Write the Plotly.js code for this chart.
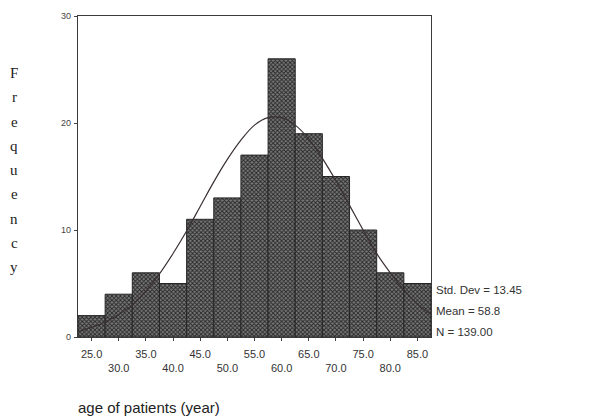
<!DOCTYPE html>
<html>
<head>
<meta charset="utf-8">
<script src="https://cdn.plot.ly/plotly-3.0.1.min.js"></script>
<style>html,body{margin:0;padding:0;background:#fff;}#chart{width:604px;height:420px;}</style>
</head>
<body>
<div id="chart"></div>
<script>
// Histogram bins (age of patients, bin centres) and frequencies
var binCenters = [25, 30, 35, 40, 45, 50, 55, 60, 65, 70, 75, 80, 85];
var frequencies = [2, 4, 6, 5, 11, 13, 17, 26, 19, 15, 10, 6, 5];

// Fitted normal curve
var curveX = [22.5, 25, 27.5, 30, 32.5, 35, 37.5, 40, 42.5, 45, 47.5, 50, 52.5, 55, 57.5, 60, 62.5, 65, 67.5, 70, 72.5, 75, 77.5, 80, 82.5, 85, 87.5];
var curveY = [0.5, 0.9, 1.4, 2.1, 3.0, 4.3, 5.9, 7.8, 9.9, 12.2, 14.5, 16.6, 18.4, 19.8, 20.5, 20.5, 19.8, 18.5, 16.7, 14.6, 12.3, 10.0, 7.8, 6.0, 4.4, 3.1, 2.1];

// Tick labels
var xTickVals = [25, 30, 35, 40, 45, 50, 55, 60, 65, 70, 75, 80, 85];
var xTickLabels = ["25.0", "30.0", "35.0", "40.0", "45.0", "50.0", "55.0", "60.0", "65.0", "70.0", "75.0", "80.0", "85.0"];
var yTickVals = [0, 10, 20, 30];

var statsLines = ["Std. Dev = 13.45", "Mean = 58.8", "N = 139.00"];
var yTitle = "Frequency";
var xTitle = "age of patients (year)";

// staggered x tick labels: every second one on a lower row
var xTickText = xTickLabels.map(function (t, i) { return i % 2 === 0 ? t : "<br>" + t; });

var traces = [
  {
    type: "bar",
    x: binCenters,
    y: frequencies,
    width: 5,
    marker: {
      color: "#6a6a6a",
      line: { color: "#262626", width: 1 },
      pattern: { shape: "x", fgcolor: "#262626", bgcolor: "#7a7a7a", size: 3, solidity: 0.5 }
    },
    hoverinfo: "x+y"
  },
  {
    type: "scatter",
    mode: "lines",
    x: curveX,
    y: curveY,
    line: { color: "#3a3030", width: 1.2, shape: "spline" },
    hoverinfo: "skip"
  }
];

var annotations = [];
var letters = yTitle.split("");
letters.forEach(function (ch, i) {
  annotations.push({
    text: ch, xref: "paper", yref: "paper",
    x: -0.18, xanchor: "center",
    y: 0.822 - i * 0.0755, yanchor: "middle",
    showarrow: false,
    font: { family: "Liberation Serif, serif", size: 15, color: "#222" }
  });
});
statsLines.forEach(function (s, i) {
  annotations.push({
    text: s, xref: "paper", yref: "paper",
    x: 1.008, xanchor: "left",
    y: 0.147 - i * 0.066, yanchor: "middle",
    showarrow: false,
    font: { family: "Liberation Sans, Arial, sans-serif", size: 11.5, color: "#333" }
  });
});
annotations.push({
  text: xTitle, xref: "paper", yref: "paper",
  x: -0.005, xanchor: "left",
  y: -0.22, yanchor: "middle",
  showarrow: false,
  font: { family: "Liberation Sans, Arial, sans-serif", size: 15, color: "#222" }
});

var layout = {
  width: 604, height: 420,
  margin: { l: 78, r: 173, t: 16, b: 83 },
  paper_bgcolor: "#ffffff",
  plot_bgcolor: "#ffffff",
  showlegend: false,
  bargap: 0,
  xaxis: {
    range: [22.5, 87.5],
    tickvals: xTickVals,
    ticktext: xTickText,
    ticks: "outside", ticklen: 3, tickcolor: "#444",
    showgrid: false, zeroline: false,
    showline: true, linecolor: "#3a3a3a", linewidth: 1.3, mirror: true,
    ticklabelstandoff: 3,
    tickfont: { family: "Liberation Sans, Arial, sans-serif", size: 11, color: "#333" }
  },
  yaxis: {
    range: [0, 30],
    tickvals: yTickVals,
    ticks: "outside", ticklen: 3, tickcolor: "#444",
    showgrid: false, zeroline: false,
    showline: true, linecolor: "#3a3a3a", linewidth: 1.3, mirror: true,
    ticklabelstandoff: 1,
    tickfont: { family: "Liberation Sans, Arial, sans-serif", size: 9, color: "#444" }
  },
  annotations: annotations
};

Plotly.newPlot("chart", traces, layout, { displayModeBar: false, staticPlot: true });
</script>
</body>
</html>
